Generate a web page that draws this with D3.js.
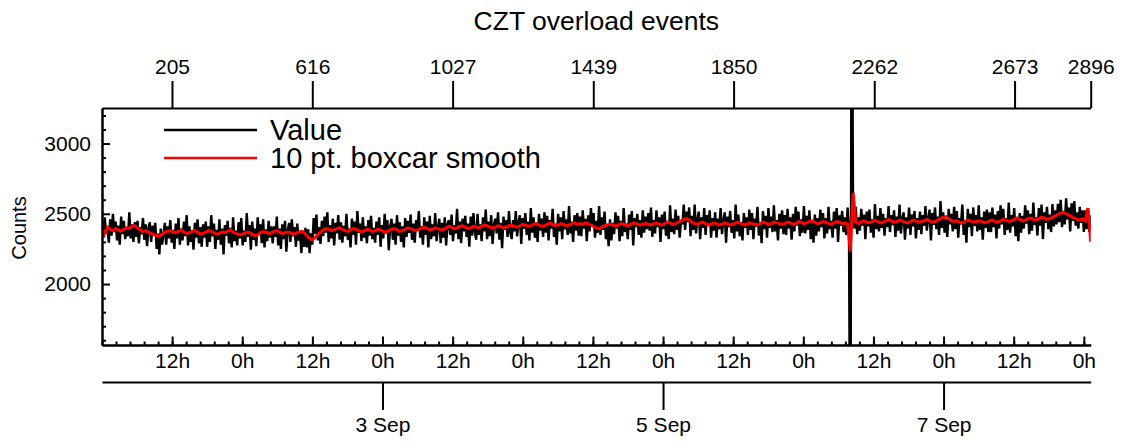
<!DOCTYPE html>
<html>
<head>
<meta charset="utf-8">
<script src="https://cdn.jsdelivr.net/npm/d3@7"></script>
<style>
  body { margin: 0; background: #fff; }
  text { font-family: "Liberation Sans", Arial, Helvetica, sans-serif; fill: #000; }
</style>
</head>
<body>
<div id="chart"></div>
<script>
// raw counts, every 4th sample (sample index 0 .. 2896)
var counts = [
  2430,2330,2475,2360,2400,2295,2460,2345,2500,2370,2445,2310,2415,2280,2480,2355,2450,2320,2405,2340,2510,2325,2425,2300,2440,
  2335,2450,2290,2405,2355,2470,2315,2425,2270,2395,2440,2300,2415,2345,2435,2250,2360,2210,2395,2280,2350,2435,2280,2410,2325,
  2455,2295,2385,2250,2430,2325,2470,2280,2395,2310,2445,2340,2490,2275,2410,2300,2380,2245,2435,2330,2460,2290,2405,2265,2425,
  2330,2445,2265,2410,2300,2490,2340,2430,2250,2385,2315,2460,2280,2395,2210,2420,2345,2450,2290,2400,2260,2475,2305,2380,2275,
  2440,2325,2470,2275,2380,2300,2505,2335,2420,2245,2445,2315,2395,2270,2475,2350,2425,2290,2460,2260,2390,2305,2450,2330,2410,
  2290,2410,2335,2480,2275,2395,2250,2425,2320,2450,2230,2380,2435,2300,2460,2340,2405,2265,2430,2310,2365,2220,2380,2265,2400,
  2260,2390,2220,2360,2280,2470,2355,2495,2310,2405,2285,2450,2340,2480,2365,2510,2300,2420,2325,2465,2275,2435,2360,2490,2315,
  2440,2295,2415,2340,2500,2315,2395,2260,2465,2350,2445,2280,2520,2365,2430,2305,2475,2330,2410,2290,2455,2345,2485,2320,2400,
  2295,2445,2350,2475,2265,2420,2325,2500,2360,2455,2240,2405,2465,2315,2430,2280,2490,2345,2440,2300,2410,2260,2470,2335,2450,
  2365,2495,2315,2430,2295,2455,2380,2520,2330,2410,2280,2475,2350,2445,2260,2485,2320,2425,2340,2505,2305,2405,2465,2290,2435,
  2330,2475,2275,2425,2455,2350,2495,2305,2420,2360,2535,2320,2445,2290,2465,2375,2485,2335,2430,2265,2480,2345,2505,2370,2315,
  2500,2350,2425,2305,2475,2375,2530,2320,2445,2340,2490,2285,2420,2465,2360,2510,2315,2435,2255,2480,2385,2455,2335,2520,2365,
  2320,2455,2375,2520,2340,2435,2490,2285,2470,2395,2505,2350,2445,2310,2540,2365,2475,2330,2430,2300,2500,2380,2465,2335,2510,
  2365,2485,2310,2455,2395,2535,2335,2430,2280,2500,2375,2475,2320,2520,2390,2460,2350,2555,2360,2445,2300,2490,2380,2505,2345,
  2480,2340,2525,2395,2465,2305,2490,2375,2540,2415,2505,2330,2450,2365,2555,2350,2475,2385,2515,2320,2420,2270,2460,2310,2435,
  2355,2510,2395,2485,2305,2450,2340,2540,2370,2430,2320,2495,2385,2520,2275,2470,2405,2500,2350,2455,2330,2525,2365,2480,2390,
  2505,2380,2545,2335,2455,2360,2525,2405,2475,2300,2495,2390,2515,2345,2440,2320,2560,2370,2465,2355,2530,2385,2485,2330,2450,
  2425,2565,2385,2515,2440,2545,2340,2485,2385,2565,2360,2460,2515,2320,2475,2400,2540,2350,2490,2415,2525,2330,2470,2380,2510,
  2330,2465,2390,2540,2355,2450,2510,2295,2480,2405,2520,2365,2455,2325,2565,2375,2495,2340,2440,2310,2505,2400,2475,2350,2530,
  2385,2505,2320,2465,2410,2550,2345,2440,2290,2520,2390,2485,2330,2540,2400,2480,2370,2560,2375,2455,2310,2500,2395,2525,2355,
  2490,2350,2535,2395,2475,2315,2500,2375,2550,2415,2515,2340,2460,2365,2555,2360,2485,2385,2525,2320,2455,2295,2495,2345,2470,
  2375,2530,2405,2505,2325,2470,2360,2550,2390,2450,2330,2515,2395,2540,2300,2490,2415,2520,2370,2475,2350,2545,2380,300,4700,
  2510,2395,2550,2355,2475,2380,2535,2415,2495,2320,2515,2410,2530,2365,2460,2330,2570,2390,2485,2375,2540,2400,2500,2345,2470,
  2405,2555,2370,2490,2420,2525,2335,2480,2380,2565,2360,2465,2510,2315,2475,2395,2545,2350,2495,2410,2520,2325,2470,2385,2515,
  2355,2490,2415,2555,2380,2465,2530,2310,2505,2420,2545,2390,2480,2350,2590,2400,2510,2365,2460,2335,2535,2425,2500,2375,2550,
  2390,2520,2330,2470,2425,2565,2350,2455,2295,2535,2405,2500,2340,2545,2415,2490,2375,2560,2385,2475,2315,2515,2400,2530,2370,
  2510,2370,2545,2405,2495,2325,2520,2395,2560,2425,2535,2350,2470,2385,2580,2365,2490,2410,2540,2340,2475,2305,2505,2365,2485,
  2395,2560,2430,2525,2355,2500,2380,2580,2420,2475,2345,2540,2415,2565,2320,2510,2435,2550,2390,2495,2370,2570,2410,2525,2425,
  2570,2440,2600,2405,2520,2425,2610,2460,2545,2375,2575,2450,2590,2415,2510,2395,2550,2435,2525,2370,2525,2390,2540,2370,2490
];

// 10 pt. boxcar smooth, every 8th sample
var smooth = [
  2430,2360,2405,2390,2380,2395,2385,2375,2390,2400,2395,2410,2415,2400,2385,2375,2380,2370,2360,2350,2345,2340,2355,2370,2375,
  2380,2370,2365,2375,2385,2370,2360,2365,2375,2380,2370,2355,2360,2370,2380,2375,2365,2355,2360,2370,2365,2375,2385,2370,2360,
  2355,2350,2360,2370,2365,2355,2345,2350,2365,2375,2370,2360,2365,2375,2380,2370,2360,2365,2370,2365,2355,2360,2370,2375,2365,
  2345,2325,2315,2330,2350,2370,2385,2395,2390,2380,2385,2395,2400,2390,2380,2375,2385,2395,2390,2380,2370,2380,2390,2385,2375,
  2380,2390,2385,2375,2370,2380,2390,2395,2385,2375,2380,2390,2400,2395,2385,2380,2390,2400,2405,2395,2385,2390,2400,2395,2385,
  2390,2400,2410,2405,2395,2400,2410,2415,2405,2395,2400,2410,2405,2400,2410,2420,2415,2405,2400,2405,2415,2410,2400,2405,2415,
  2420,2410,2405,2415,2425,2420,2410,2415,2425,2430,2420,2410,2415,2425,2435,2425,2415,2420,2430,2425,2415,2420,2430,2435,2425,
  2430,2425,2435,2430,2420,2410,2400,2395,2405,2415,2420,2425,2420,2415,2420,2430,2425,2415,2420,2430,2435,2425,2420,2425,2430,
  2425,2420,2430,2435,2425,2420,2430,2440,2435,2425,2430,2440,2450,2460,2465,2455,2440,2430,2425,2435,2440,2430,2420,2425,2435,
  2430,2420,2425,2435,2430,2420,2425,2435,2440,2430,2420,2425,2435,2430,2425,2420,2430,2440,2435,2425,2430,2440,2435,2430,2425,
  2430,2440,2435,2425,2430,2445,2440,2430,2435,2445,2450,2440,2430,2435,2445,2440,2430,2425,2435,2445,2440,2430,2435,2425,2230,
  2650,2440,2430,2445,2450,2440,2435,2445,2455,2445,2435,2440,2450,2460,2450,2440,2445,2455,2450,2440,2435,2445,2455,2450,2440,
  2445,2450,2460,2450,2440,2445,2455,2465,2475,2480,2465,2450,2445,2450,2440,2435,2445,2455,2450,2440,2445,2450,2445,2435,2440,
  2450,2455,2445,2440,2450,2460,2455,2445,2450,2460,2470,2460,2450,2455,2465,2470,2460,2455,2465,2475,2470,2460,2465,2475,2485,
  2495,2505,2510,2500,2490,2480,2470,2460,2455,2465,2450,2540,2300
];

var lastIndex = 2896;
var topTickLabels = [205, 616, 1027, 1439, 1850, 2262, 2673, 2896];
var yMajorTicks = [2000, 2500, 3000];
var yMinorTicks = [1600, 1700, 1800, 1900, 2100, 2200, 2300, 2400, 2600, 2700, 2800, 2900, 3100, 3200];
var dateTickLabels = ["3 Sep", "5 Sep", "7 Sep"];
var dateTicks = [Date.UTC(2000, 8, 3), Date.UTC(2000, 8, 5), Date.UTC(2000, 8, 7)];
var legendLabels = ["Value", "10 pt. boxcar smooth"];

var startTime = Date.UTC(2000, 8, 1);
var samplePeriod = 210.3 * 1000;   // ms per sample
var endTime = startTime + lastIndex * samplePeriod;

var W = 1124, H = 442;
var plotLeft = 102, plotRight = 1090.7, plotTop = 108, plotBottom = 345;

var svg = d3.select("#chart").append("svg")
    .attr("width", W).attr("height", H);
svg.append("rect").attr("width", W).attr("height", H).attr("fill", "#fff");

var xIndex = d3.scaleLinear().domain([0, lastIndex]).range([plotLeft, plotRight]);
var xTime = d3.scaleUtc().domain([new Date(startTime), new Date(endTime)]).range([plotLeft, plotRight]);
var y = d3.scaleLinear().domain([1566, 3253]).range([plotBottom, plotTop]);

svg.append("clipPath").attr("id", "plotclip")
  .append("rect").attr("x", plotLeft).attr("y", plotTop)
  .attr("width", plotRight - plotLeft).attr("height", plotBottom - plotTop);

function lineFor(arr) {
  var step = lastIndex / (arr.length - 1);
  return d3.line()
    .x(function(d, i) { return xIndex(i * step); })
    .y(function(d) { return y(d); })(arr);
}

var plot = svg.append("g").attr("clip-path", "url(#plotclip)");
plot.append("path")
    .attr("d", lineFor(counts))
    .attr("fill", "none").attr("stroke", "#000").attr("stroke-width", 2.4);
plot.append("path")
    .attr("d", lineFor(smooth))
    .attr("fill", "none").attr("stroke", "#ff0000").attr("stroke-width", 3);

// style helper for axes
function styleAxis(g, size) {
  g.select(".domain").attr("stroke", "#000").attr("stroke-width", 2);
  g.selectAll(".tick line").attr("stroke", "#000").attr("stroke-width", 2);
  g.selectAll("text").attr("font-size", size || 21)
    .attr("font-family", "Liberation Sans, Arial, sans-serif").attr("fill", "#000");
}

// top axis: sample index
var gTop = svg.append("g").attr("transform", "translate(0," + plotTop + ")")
  .call(d3.axisTop(xIndex).tickValues(topTickLabels).tickSize(27).tickSizeOuter(0)
        .tickPadding(7).tickFormat(d3.format("d")));
styleAxis(gTop);

// bottom axis: hours, minor ticks every 2.4 h
var minorTimes = d3.range(0, 80).map(function(k) { return new Date(startTime + k * 2.4 * 3600e3); })
  .filter(function(t) { return t <= endTime; });
var gMinorX = svg.append("g").attr("transform", "translate(0," + plotBottom + ")")
  .call(d3.axisBottom(xTime).tickValues(minorTimes).tickSize(-3.5).tickSizeOuter(0).tickFormat(""));
styleAxis(gMinorX);

var hourTicks = d3.utcHour.every(12).range(new Date(startTime + 3600e3), new Date(endTime));
var gX = svg.append("g").attr("transform", "translate(0," + plotBottom + ")")
  .call(d3.axisBottom(xTime).tickValues(hourTicks).tickSize(-8.5).tickSizeOuter(0)
        .tickPadding(8).tickFormat(d3.utcFormat("%-Hh")));
styleAxis(gX);

// date axis
var gDate = svg.append("g").attr("transform", "translate(0,382)")
  .call(d3.axisBottom(xTime).tickValues(dateTicks.map(function(t) { return new Date(t); }))
        .tickSize(28).tickSizeOuter(0).tickPadding(7)
        .tickFormat(function(d, i) { return dateTickLabels[i]; }));
styleAxis(gDate);

// y axis
var gYMinor = svg.append("g").attr("transform", "translate(" + plotLeft + ",0)")
  .call(d3.axisLeft(y).tickValues(yMinorTicks).tickSize(-4).tickSizeOuter(0).tickFormat(""));
styleAxis(gYMinor);
var gY = svg.append("g").attr("transform", "translate(" + plotLeft + ",0)")
  .call(d3.axisLeft(y).tickValues(yMajorTicks).tickSize(-8).tickSizeOuter(0)
        .tickPadding(11).tickFormat(d3.format("d")));
styleAxis(gY);

svg.append("text")
  .attr("transform", "translate(26,228) rotate(-90)")
  .attr("text-anchor", "middle").attr("font-size", 20)
  .text("Counts");

svg.append("text")
  .attr("x", (plotLeft + plotRight) / 2).attr("y", 30)
  .attr("text-anchor", "middle").attr("font-size", 26.5)
  .text("CZT overload events");

// legend
var legendColors = ["#000", "#ff0000"];
var legend = svg.append("g");
legendLabels.forEach(function(lab, i) {
  var ly = 130 + i * 28;
  legend.append("line").attr("x1", 164).attr("x2", 257).attr("y1", ly).attr("y2", ly)
    .attr("stroke", legendColors[i]).attr("stroke-width", 2.5);
  legend.append("text").attr("x", 270).attr("y", ly + 10).attr("font-size", 29).text(lab);
});
</script>
</body>
</html>
